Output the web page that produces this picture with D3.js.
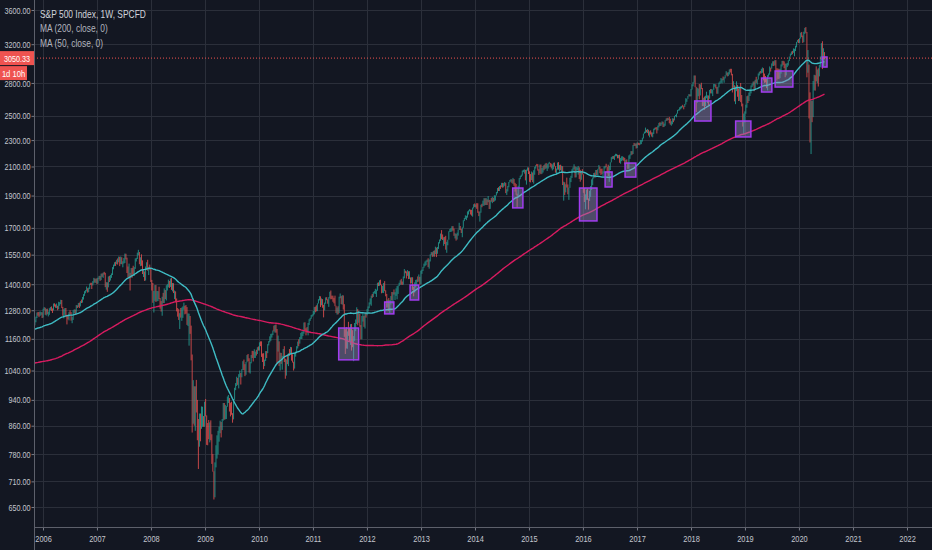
<!DOCTYPE html>
<html>
<head>
<meta charset="utf-8">
<script src="https://cdn.jsdelivr.net/npm/d3@7.9.0/dist/d3.min.js"></script>
<style>
  html, body { margin: 0; padding: 0; background: #131722; }
  svg { display: block; }
  text { font-family: "Liberation Sans", Arial, sans-serif; }
</style>
</head>
<body>
<svg id="chart" width="932" height="550"></svg>
<script>
// weekly bars, Monday of the first bar
const firstWeek = new Date(2005, 9, 31);
const firstOpen = 1198;

// closes of the 199 weeks before the first bar, only used by the moving averages
const priorCloses = [
  1146,1128,1133,1122,1096,1104,1089,1132,1165,1166,1149,1147,1122,1112,1125,1077,1073,1054,1106,1083,1067,1027,1007,989,990,989,921,847,852,865,908,928,940,916,893,889,846,827,800,835,884,897,900,894,909,930,936,912,889,895,875,
  908,927,901,861,855,829,834,851,841,829,828,895,863,876,868,893,898,930,933,945,933,963,987,998,995,976,985,998,993,998,980,977,990,993,1008,1021,1018,1036,1009,1029,1038,1039,1028,1050,1053,1050,1035,1058,1061,1074,1088,1095,
  1108,1121,1139,1141,1131,1142,1146,1144,1145,1156,1120,1109,1108,1141,1139,1134,1140,1107,1099,1095,1093,1121,1123,1136,1135,1134,1126,1112,1101,1086,1102,1064,1064,1099,1107,1114,1124,1129,1110,1131,1122,1109,1095,1130,1166,1184,1171,1183,1191,1189,1195,1210,1212,
  1187,1184,1168,1171,1203,1206,1201,1212,1222,1201,1190,1172,1180,1181,1143,1152,1157,1172,1154,1190,1198,1197,1201,1217,1191,1212,1211,1227,1230,1234,1226,1237,1220,1206,1218,1241,1228,1215,1229,1196,1187,1178,1198
];

const weekClose = [
  1220,1234,1248,1268,1265,1259,1267,1268,1248,
  1285,1287,1261,1283,1264,1266,1287,1289,1287,1281,1307,1302,1295,1297,1289,1311,1311,1325,1291,1267,1280,1288,1253,1252,1245,1270,1265,1236,1240,1278,1280,1266,1302,1295,1311,1299,1319,1314,1336,1349,1366,1368,1377,1364,1380,1401,1400,1396,1409,1427,1410,1418,
  1409,1430,1431,1423,1449,1438,1456,1451,1387,1402,1386,1437,1421,1443,1453,1485,1495,1506,1505,1523,1516,1537,1507,1533,1503,1503,1530,1553,1534,1459,1434,1454,1445,1479,1474,1454,1484,1525,1527,1557,1561,1501,1535,1510,1453,1458,1440,1481,1504,1468,1484,1478,
  1411,1401,1325,1330,1395,1331,1349,1353,1331,1294,1288,1330,1316,1370,1332,1390,1398,1413,1388,1426,1375,1400,1361,1361,1318,1278,1262,1240,1261,1257,1260,1297,1298,1292,1283,1242,1252,1255,1213,1099,899,941,877,968,930,873,800,896,876,879,888,873,
  932,890,850,832,826,869,827,770,735,683,756,768,816,842,857,870,866,877,929,882,887,919,940,946,921,918,896,879,940,979,987,1010,1005,1026,1029,1017,1042,1068,1044,1025,1071,1088,1080,1036,1069,1094,1092,1091,1106,1106,1103,1127,1115,
  1145,1136,1092,1074,1066,1075,1109,1104,1139,1150,1160,1167,1178,1194,1192,1217,1187,1111,1136,1088,1089,1065,1092,1118,1076,1023,1078,1065,1103,1102,1121,1079,1071,1065,1105,1110,1126,1149,1147,1166,1176,1183,1183,1226,1200,1199,1190,1225,1240,1244,1257,1258,
  1271,1293,1283,1276,1310,1329,1343,1320,1321,1304,1279,1313,1332,1328,1320,1337,1364,1340,1338,1333,1331,1300,1271,1271,1268,1340,1344,1316,1345,1292,1199,1179,1123,1177,1174,1154,1216,1136,1131,1155,1225,1238,1285,1253,1263,1216,1159,1244,1255,1220,1265,1258,
  1278,1289,1315,1316,1345,1343,1362,1366,1370,1371,1404,1397,1408,1398,1370,1378,1403,1369,1353,1295,1318,1278,1325,1343,1335,1362,1355,1357,1362,1386,1391,1406,1418,1411,1407,1438,1466,1460,1441,1461,1429,1433,1412,1414,1380,1360,1409,1416,1418,1413,1430,1402,
  1466,1472,1486,1503,1513,1518,1520,1516,1518,1551,1561,1556,1569,1553,1588,1555,1582,1614,1633,1667,1650,1631,1643,1626,1593,1606,1632,1680,1692,1692,1710,1691,1655,1664,1633,1655,1688,1710,1692,1690,1703,1745,1759,1762,1771,1798,1805,1806,1805,1775,1818,1842,
  1831,1842,1839,1790,1783,1797,1838,1836,1859,1878,1841,1866,1857,1865,1815,1864,1863,1881,1878,1878,1900,1924,1950,1936,1963,1961,1985,1968,1978,1978,1925,1931,1955,1988,2003,2008,1985,2011,1982,1968,1906,1887,1965,2018,2032,2040,2064,2068,2075,2003,2071,2089,
  2058,2045,2019,2051,1995,2055,2097,2110,2104,2071,2053,2108,2061,2067,2102,2081,2117,2108,2116,2123,2126,2107,2092,2094,2110,2102,2077,2077,2127,2080,2104,2078,2092,1971,1989,1921,1961,1958,1932,1951,2015,2033,2075,2079,2100,2023,2089,2090,2092,2012,2006,2061,
  2044,1922,1880,1907,1940,1880,1865,1918,1948,1999,2022,2050,2035,2073,2048,2081,2092,2065,2057,2047,2052,2099,2099,2096,2071,2037,2103,2130,2162,2175,2174,2183,2184,2184,2169,2180,2128,2139,2165,2168,2153,2133,2141,2126,2085,2164,2182,2213,2192,2260,2258,2263,2239,
  2277,2275,2271,2295,2297,2316,2351,2367,2383,2373,2378,2344,2363,2355,2329,2349,2384,2399,2391,2382,2416,2439,2432,2433,2438,2423,2425,2459,2473,2472,2477,2441,2426,2444,2477,2461,2500,2502,2519,2549,2553,2575,2581,2588,2582,2579,2602,2642,2652,2676,2683,2674,
  2743,2786,2810,2873,2762,2620,2732,2747,2691,2786,2752,2588,2641,2604,2656,2670,2670,2663,2728,2713,2721,2735,2779,2780,2755,2718,2760,2801,2802,2819,2840,2833,2850,2875,2902,2872,2905,2930,2914,2886,2767,2768,2659,2723,2781,2736,2633,2760,2633,2600,2417,2486,
  2532,2596,2671,2665,2707,2708,2776,2793,2804,2743,2822,2801,2834,2893,2907,2905,2940,2946,2881,2860,2826,2752,2873,2887,2950,2942,2990,3014,2977,3026,2932,2919,2889,2847,2926,2979,3007,2992,2962,2952,2970,2986,3023,3067,3093,3120,3110,3141,3146,3169,3221,3241,
  3235,3265,3330,3295,3226,3328,3380,3338,2954,2972,2711,2305,2541,2489,2790,2875,2837,2831,2930,2864,2955,3044,3194,3041,3098,3050.33
];

const weekHigh = [
  1224,1237,1252,1270,1272,1272,1275,1272,1271,
  1287,1294,1291,1286,1287,1274,1289,1294,1297,1288,1310,1311,1306,1310,1300,1318,1316,1327,1326,1295,1285,1290,1290,1260,1260,1272,1280,1272,1250,1280,1284,1283,1303,1302,1312,1314,1321,1328,1340,1353,1367,1372,1389,1381,1384,1403,1407,1407,1415,1431,1428,1427,
  1429,1432,1441,1441,1452,1453,1457,1461,1456,1410,1409,1438,1441,1445,1453,1485,1498,1510,1513,1523,1530,1540,1539,1540,1536,1515,1532,1556,1555,1534,1488,1503,1456,1480,1481,1492,1485,1530,1533,1561,1576,1564,1536,1552,1520,1475,1463,1488,1510,1523,1486,1498,
  1478,1421,1406,1368,1396,1396,1368,1367,1388,1335,1321,1341,1359,1380,1372,1395,1400,1422,1416,1428,1430,1406,1405,1370,1366,1333,1290,1285,1267,1290,1292,1297,1314,1300,1303,1294,1266,1265,1255,1214,1099,1006,985,985,1007,940,880,897,897,919,918,889,
  934,943,891,868,877,870,876,835,780,735,758,804,832,845,857,875,871,880,930,930,924,920,951,956,946,931,934,898,943,980,996,1018,1014,1027,1040,1031,1045,1074,1080,1063,1071,1097,1101,1085,1071,1097,1113,1112,1119,1110,1117,1127,1130,
  1146,1150,1150,1103,1104,1080,1112,1112,1139,1151,1170,1180,1181,1194,1214,1217,1219,1200,1173,1150,1106,1105,1094,1120,1131,1083,1080,1099,1104,1120,1128,1127,1100,1072,1105,1110,1131,1149,1158,1167,1184,1189,1190,1227,1228,1203,1208,1225,1241,1247,1259,1262,
  1277,1294,1296,1302,1311,1330,1344,1343,1333,1330,1304,1314,1338,1339,1329,1339,1364,1370,1346,1346,1336,1346,1300,1292,1298,1341,1356,1344,1348,1347,1307,1199,1208,1190,1230,1204,1220,1221,1195,1171,1225,1240,1293,1285,1277,1266,1216,1255,1267,1255,1266,1270,
  1285,1297,1315,1333,1346,1354,1363,1368,1378,1374,1407,1409,1419,1422,1398,1392,1406,1415,1371,1354,1328,1335,1326,1344,1363,1362,1375,1362,1380,1391,1394,1407,1419,1426,1413,1438,1475,1467,1463,1470,1464,1464,1433,1434,1434,1388,1409,1421,1423,1438,1448,1436,
  1467,1472,1486,1503,1514,1519,1524,1531,1525,1552,1564,1563,1570,1573,1593,1588,1592,1618,1633,1667,1687,1662,1646,1648,1654,1620,1632,1680,1693,1698,1710,1709,1696,1669,1664,1672,1690,1730,1711,1694,1703,1745,1759,1775,1772,1799,1805,1813,1810,1809,1823,1844,
  1849,1843,1851,1850,1799,1798,1841,1847,1867,1883,1882,1884,1875,1897,1872,1869,1884,1891,1885,1902,1901,1924,1950,1955,1963,1968,1985,1985,1983,1991,1985,1942,1964,1991,2005,2011,2008,2019,2009,1985,1977,1912,1965,2018,2034,2042,2071,2076,2079,2076,2078,2094,
  2093,2065,2046,2064,2057,2073,2097,2110,2119,2117,2080,2114,2114,2089,2102,2111,2120,2126,2117,2124,2134,2126,2121,2115,2127,2129,2102,2085,2129,2132,2110,2113,2105,2102,1993,1986,1975,2021,1974,1953,2020,2034,2080,2094,2116,2100,2097,2094,2104,2094,2076,2067,
  2081,2038,1950,1908,1940,1947,1881,1930,1963,2009,2022,2053,2056,2075,2075,2083,2111,2099,2083,2085,2066,2100,2105,2120,2096,2113,2104,2131,2169,2176,2177,2183,2194,2193,2187,2185,2187,2163,2175,2175,2169,2163,2149,2152,2127,2182,2189,2214,2214,2261,2278,2273,2274,
  2282,2279,2276,2301,2300,2319,2352,2368,2401,2383,2390,2383,2370,2378,2362,2361,2392,2400,2403,2405,2418,2440,2446,2441,2453,2450,2434,2463,2478,2484,2480,2491,2475,2454,2480,2476,2500,2508,2520,2552,2557,2575,2582,2588,2597,2584,2605,2657,2652,2678,2695,2692,
  2743,2787,2810,2873,2873,2763,2754,2747,2790,2786,2802,2752,2661,2672,2680,2717,2683,2682,2733,2742,2742,2737,2791,2790,2786,2760,2764,2804,2816,2848,2841,2863,2855,2876,2916,2902,2906,2934,2940,2940,2889,2817,2778,2766,2816,2781,2747,2760,2800,2686,2608,2520,
  2539,2598,2675,2681,2709,2744,2776,2793,2813,2816,2831,2860,2836,2893,2910,2918,2940,2954,2946,2892,2868,2841,2876,2893,2964,2951,2995,3017,3018,3028,3029,2945,2943,2939,2940,2985,3021,3022,3016,2993,2993,3000,3027,3067,3098,3120,3127,3154,3150,3183,3226,3248,
  3258,3268,3330,3338,3297,3341,3385,3394,3338,3136,2983,2711,2637,2632,2819,2880,2875,2965,2933,2945,2981,3068,3212,3233,3156,3114
];

const weekLow = [
  1196,1215,1228,1246,1256,1250,1255,1260,1246,
  1248,1280,1260,1257,1262,1253,1260,1280,1277,1268,1279,1296,1291,1290,1280,1285,1300,1307,1290,1256,1245,1260,1250,1219,1240,1236,1262,1235,1224,1238,1266,1262,1265,1290,1294,1290,1297,1312,1314,1328,1345,1357,1366,1360,1362,1377,1396,1377,1394,1404,1408,1406,
  1400,1403,1424,1416,1420,1436,1431,1447,1386,1374,1364,1385,1411,1418,1431,1445,1474,1490,1491,1500,1498,1510,1490,1500,1500,1484,1503,1506,1525,1455,1432,1429,1370,1432,1432,1450,1440,1476,1514,1527,1547,1500,1490,1492,1450,1435,1416,1418,1470,1467,1445,1472,
  1411,1370,1313,1270,1322,1317,1320,1321,1330,1287,1274,1256,1312,1312,1330,1324,1370,1385,1382,1387,1373,1366,1358,1330,1315,1275,1252,1238,1200,1248,1234,1247,1282,1262,1265,1217,1212,1133,1180,1077,840,866,860,845,900,818,741,800,815,851,857,857,
  857,888,805,804,821,812,818,754,734,667,672,745,768,779,814,838,826,847,875,878,879,880,918,930,903,888,893,869,879,940,972,986,990,978,1016,991,1016,1042,1041,1020,1025,1070,1074,1033,1029,1066,1086,1073,1086,1086,1095,1101,1114,
  1114,1131,1090,1071,1045,1056,1075,1086,1104,1134,1146,1152,1165,1175,1190,1185,1185,1065,1110,1056,1040,1064,1043,1087,1071,1011,1022,1063,1056,1094,1102,1076,1069,1040,1047,1091,1107,1122,1131,1141,1159,1159,1171,1181,1194,1174,1185,1174,1217,1234,1243,1252,
  1257,1262,1271,1275,1276,1310,1324,1294,1302,1291,1249,1279,1309,1325,1309,1295,1333,1329,1330,1318,1311,1298,1268,1261,1262,1268,1334,1307,1305,1283,1168,1101,1122,1121,1172,1150,1136,1114,1127,1074,1152,1191,1221,1215,1226,1209,1158,1158,1231,1209,1202,1248,
  1258,1274,1289,1306,1300,1336,1340,1356,1354,1340,1369,1391,1392,1395,1357,1359,1358,1367,1343,1292,1292,1277,1266,1306,1324,1309,1351,1326,1345,1329,1354,1391,1397,1398,1397,1398,1429,1454,1428,1441,1425,1426,1403,1404,1373,1343,1360,1385,1398,1411,1413,1398,
  1400,1451,1465,1482,1490,1495,1512,1485,1477,1514,1548,1538,1540,1539,1553,1537,1555,1581,1611,1626,1635,1630,1598,1608,1577,1560,1601,1632,1676,1676,1679,1684,1654,1639,1627,1633,1655,1688,1687,1670,1646,1700,1740,1752,1746,1761,1780,1799,1780,1773,1767,1818,
  1827,1824,1815,1790,1770,1737,1791,1825,1834,1834,1839,1839,1839,1858,1814,1815,1860,1851,1859,1862,1868,1900,1915,1930,1930,1944,1956,1952,1955,1965,1916,1904,1927,1955,1988,1993,1983,1978,1965,1926,1905,1821,1886,1951,2010,2025,2035,2060,2049,2002,1973,2070,
  2046,1992,1988,2004,1990,1980,2041,2085,2103,2070,2039,2050,2045,2048,2057,2073,2081,2086,2068,2085,2120,2099,2086,2072,2080,2101,2056,2044,2077,2077,2063,2073,2053,1970,1867,1904,1921,1953,1908,1872,1951,1990,2019,2063,2079,2022,2023,2073,2042,2012,1993,2006,
  2043,1918,1858,1812,1872,1872,1810,1865,1891,1937,1969,2015,2022,2022,2039,2035,2079,2052,2039,2046,2025,2052,2086,2095,2050,2032,1992,2074,2130,2154,2156,2148,2175,2175,2160,2160,2127,2120,2139,2145,2142,2115,2130,2123,2083,2085,2156,2182,2187,2192,2254,2253,2234,
  2238,2262,2259,2265,2268,2288,2313,2355,2356,2362,2356,2336,2322,2345,2328,2322,2349,2380,2387,2353,2378,2403,2415,2415,2428,2405,2407,2416,2457,2459,2464,2437,2425,2417,2429,2446,2461,2496,2488,2521,2545,2547,2557,2566,2575,2557,2578,2600,2624,2651,2674,2673,
  2682,2737,2768,2803,2759,2533,2615,2675,2647,2682,2741,2586,2585,2553,2586,2656,2612,2594,2652,2701,2701,2676,2734,2764,2748,2698,2698,2758,2791,2802,2795,2826,2802,2844,2875,2864,2867,2883,2903,2874,2710,2755,2628,2603,2722,2670,2631,2636,2621,2583,2410,2347,
  2444,2519,2571,2613,2631,2677,2701,2760,2775,2722,2735,2800,2785,2833,2873,2892,2894,2900,2825,2801,2805,2750,2729,2859,2881,2912,2952,2970,2968,2975,2914,2822,2840,2836,2856,2892,2964,2980,2946,2856,2874,2957,2973,3020,3066,3083,3091,3107,3070,3125,3166,3220,
  3212,3214,3263,3280,3214,3223,3315,3328,2855,2901,2478,2281,2192,2446,2489,2729,2727,2816,2798,2766,2864,2955,3025,2937,2965,3038
];

const priceTicks = [650, 710, 780, 860, 940, 1040, 1160, 1280, 1400, 1550, 1700, 1900, 2100, 2300, 2500, 2800, 3200, 3600];
const yearTicks = [2006, 2007, 2008, 2009, 2010, 2011, 2012, 2013, 2014, 2015, 2016, 2017, 2018, 2019, 2020, 2021, 2022];
const lastPrice = 3050.33;
const countdown = "1d 10h";
const legendLines = ["S&P 500 Index, 1W, SPCFD", "MA (200, close, 0)", "MA (50, close, 0)"];

// purple boxes drawn on the chart
const boxStart = ["2011-06-24", "2012-04-30", "2012-10-19", "2014-09-13", "2015-12-09", "2016-05-30", "2016-10-12", "2018-01-26", "2018-10-30", "2019-04-23", "2019-07-24", "2020-06-07"];
const boxEnd   = ["2011-11-06", "2012-07-01", "2012-12-16", "2014-11-21", "2016-04-05", "2016-07-16", "2016-12-24", "2018-05-16", "2019-02-10", "2019-07-02", "2019-11-21", "2020-07-09"];
const boxTop    = [1204, 1317, 1396, 1950, 1950, 2061, 2125, 2632, 2456, 2848, 2918, 3062];
const boxBottom = [1079, 1264, 1326, 1821, 1741, 1957, 2025, 2456, 2325, 2714, 2761, 2958];

const width = 932;
const height = 550;
const plotLeft = 34;
const plotBottom = 527;

const svg = d3.select("#chart");

const x = d3.scaleTime()
  .domain([new Date(2006, 0, 1), new Date(2022, 0, 1)])
  .range([43, 907]);

const y = d3.scaleLog()
  .domain([3600, 650])
  .range([10, 507]);

// squeeze text horizontally, the chart uses a condensed face
function narrow(sel, k) {
  sel.each(function () {
    const len = this.getComputedTextLength();
    d3.select(this).attr("textLength", len * k).attr("lengthAdjust", "spacingAndGlyphs");
  });
}

// bars
const candles = weekClose.map((c, i) => ({
  date: d3.timeDay.offset(firstWeek, 7 * i),
  open: i ? weekClose[i - 1] : firstOpen,
  high: weekHigh[i],
  low: weekLow[i],
  close: c
}));

// simple moving averages on the close
const allCloses = priorCloses.concat(weekClose);
const offset = priorCloses.length;
function sma(len) {
  return candles.map((d, i) => ({
    date: d.date,
    value: d3.mean(allCloses.slice(offset + i - len + 1, offset + i + 1))
  }));
}
const ma200 = sma(200);
const ma50 = sma(50);

// background grid
svg.append("rect").attr("width", width).attr("height", height).attr("fill", "#131722");

const grid = svg.append("g");
grid.selectAll(".hgrid")
  .data(priceTicks)
  .join("line")
  .attr("x1", plotLeft).attr("x2", width)
  .attr("y1", d => Math.round(y(d)) + 0.5).attr("y2", d => Math.round(y(d)) + 0.5)
  .attr("stroke", "#2b2f3a");
grid.selectAll(".vgrid")
  .data(yearTicks)
  .join("line")
  .attr("x1", d => Math.round(x(new Date(d, 0, 1))) + 0.5)
  .attr("x2", d => Math.round(x(new Date(d, 0, 1))) + 0.5)
  .attr("y1", 0).attr("y2", plotBottom)
  .attr("stroke", "#2b2f3a");

svg.append("clipPath").attr("id", "plot")
  .append("rect").attr("x", plotLeft).attr("y", 0)
  .attr("width", width - plotLeft).attr("height", plotBottom);

const plot = svg.append("g").attr("clip-path", "url(#plot)");

// candles: at this zoom each weekly bar is about one pixel wide
plot.append("g")
  .selectAll("line")
  .data(candles)
  .join("line")
  .attr("x1", d => x(d.date)).attr("x2", d => x(d.date))
  .attr("y1", d => y(Math.max(d.high, d.open, d.close)))
  .attr("y2", d => y(Math.min(d.low, d.open, d.close)))
  .attr("stroke", d => d.close >= d.open ? "#26a69a" : "#ef5350")
  .attr("stroke-opacity", 0.8)
  .attr("stroke-width", 1);

const line = d3.line()
  .x(d => x(d.date))
  .y(d => y(d.value));

plot.append("path")
  .datum(ma200)
  .attr("fill", "none")
  .attr("stroke", "#d81b60")
  .attr("stroke-width", 1.4)
  .attr("d", line);

plot.append("path")
  .datum(ma50)
  .attr("fill", "none")
  .attr("stroke", "#3fbcc4")
  .attr("stroke-width", 1.4)
  .attr("d", line);

// boxes
plot.append("g")
  .selectAll("rect")
  .data(boxStart)
  .join("rect")
  .attr("x", (d, i) => x(new Date(d)))
  .attr("y", (d, i) => y(boxTop[i]))
  .attr("width", (d, i) => x(new Date(boxEnd[i])) - x(new Date(d)))
  .attr("height", (d, i) => y(boxBottom[i]) - y(boxTop[i]))
  .attr("fill", "rgba(150, 140, 190, 0.45)")
  .attr("stroke", "#a23cf0")
  .attr("stroke-width", 1.5);

// last price line
plot.append("line")
  .attr("x1", plotLeft).attr("x2", width)
  .attr("y1", y(lastPrice)).attr("y2", y(lastPrice))
  .attr("stroke", "#ef5350")
  .attr("stroke-width", 1)
  .attr("stroke-dasharray", "1,2");

// axes
const yAxis = svg.append("g")
  .attr("transform", `translate(${plotLeft + 0.5},0)`)
  .call(d3.axisLeft(y).tickValues(priceTicks).tickFormat(d3.format(".2f")).tickSize(3).tickSizeOuter(0));
yAxis.select(".domain").remove();
yAxis.selectAll("line").attr("stroke", "#787b86");
yAxis.selectAll("text").attr("fill", "#c3c6ce").attr("font-size", 9.5).attr("x", -4).call(narrow, 0.76);

const xAxis = svg.append("g")
  .attr("transform", `translate(0,${plotBottom + 0.5})`)
  .call(d3.axisBottom(x).tickValues(yearTicks.map(d => new Date(d, 0, 1))).tickFormat(d3.timeFormat("%Y")).tickSize(3).tickSizeOuter(0));
xAxis.select(".domain").remove();
xAxis.selectAll("line").attr("stroke", "#787b86");
xAxis.selectAll("text").attr("fill", "#c3c6ce").attr("font-size", 9.5).attr("dy", "0.9em").call(narrow, 0.78);

svg.append("line")
  .attr("x1", plotLeft).attr("x2", width)
  .attr("y1", plotBottom + 0.5).attr("y2", plotBottom + 0.5)
  .attr("stroke", "#5d606b");
svg.append("line")
  .attr("x1", plotLeft + 0.5).attr("x2", plotLeft + 0.5)
  .attr("y1", 0).attr("y2", height)
  .attr("stroke", "#5d606b");

// price badges
const yLast = y(lastPrice);
svg.append("rect").attr("x", 0).attr("y", yLast - 7).attr("width", plotLeft).attr("height", 14).attr("fill", "#ef5350");
svg.append("text").attr("x", plotLeft / 2).attr("y", yLast + 3.5)
  .attr("text-anchor", "middle").attr("fill", "#ffffff").attr("font-size", 9.5)
  .text(d3.format(".2f")(lastPrice))
  .call(narrow, 0.76);
svg.append("rect").attr("x", 0).attr("y", yLast + 8).attr("width", 27).attr("height", 14).attr("fill", "#ef5350");
svg.append("text").attr("x", 13.5).attr("y", yLast + 18.5)
  .attr("text-anchor", "middle").attr("fill", "#ffffff").attr("font-size", 9.5)
  .text(countdown)
  .call(narrow, 0.8);

// legend
svg.append("g")
  .selectAll("text")
  .data(legendLines)
  .join("text")
  .attr("x", 40)
  .attr("y", (d, i) => 18 + i * 14.3)
  .attr("fill", (d, i) => i ? "#b2b5be" : "#d1d4dc")
  .attr("font-size", 10.5)
  .text(d => d)
  .call(narrow, 0.8);
</script>
</body>
</html>
